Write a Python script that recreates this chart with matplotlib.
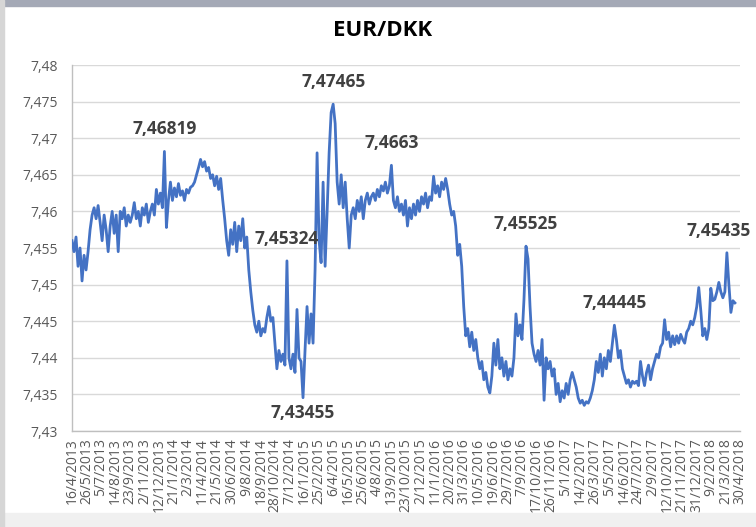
import numpy as np
import pandas as pd
import matplotlib.pyplot as plt
from matplotlib.patches import Rectangle

plt.rcParams['font.family'] = ['Open Sans', 'DejaVu Sans']

# EUR/DKK, roughly every 5.5 days from 16/4/2013 to 16/4/2018
rate = [
    7.4560, 7.4545, 7.4565, 7.4525, 7.4550, 7.4505, 7.4540, 7.4520, 7.4545, 7.4575,
    7.4595, 7.4605, 7.4590, 7.4608, 7.4585, 7.4560, 7.4595, 7.4575, 7.4545, 7.4580,
    7.4600, 7.4570, 7.4595, 7.4545, 7.4600, 7.4590, 7.4605, 7.4580, 7.4595, 7.4585,
    7.4595, 7.4612, 7.4590, 7.4600, 7.4580, 7.4605, 7.4595, 7.4610, 7.4585, 7.4600,
    7.4610, 7.4595, 7.4630, 7.4610, 7.4625, 7.4605, 7.46819, 7.4578, 7.4615, 7.4640,
    7.4615, 7.4632, 7.4620, 7.4638, 7.4622, 7.4628, 7.4615, 7.4630, 7.4625, 7.4633,
    7.4635, 7.4640, 7.4650, 7.4660, 7.4671, 7.4661, 7.4668, 7.4655, 7.4660, 7.4645,
    7.4650, 7.4635, 7.4648, 7.4630, 7.4645, 7.4616, 7.4590, 7.4560, 7.4540, 7.4575,
    7.4555, 7.4585, 7.4545, 7.4580, 7.4560, 7.4590, 7.4550, 7.4565, 7.4520, 7.4490,
    7.4465, 7.4445, 7.4435, 7.4450, 7.4430, 7.4440, 7.4435, 7.4455, 7.4470, 7.4450,
    7.4455, 7.4420, 7.4385, 7.4410, 7.4395, 7.4405, 7.4390, 7.45324, 7.4400, 7.4385,
    7.4405, 7.4380, 7.4466, 7.4400, 7.4395, 7.43455, 7.4410, 7.4470, 7.4420, 7.4460,
    7.4420, 7.4520, 7.4680, 7.4560, 7.4530, 7.4640, 7.4525, 7.4600, 7.4680, 7.4735,
    7.47465, 7.4720, 7.4640, 7.4610, 7.4650, 7.4605, 7.4640, 7.4590, 7.4550, 7.4595,
    7.4605, 7.4590, 7.4615, 7.4600, 7.4620, 7.4590, 7.4615, 7.4625, 7.4610, 7.4620,
    7.4625, 7.4615, 7.4630, 7.4620, 7.4635, 7.4628, 7.4640, 7.4625, 7.4635, 7.4663,
    7.4615, 7.4605, 7.4620, 7.4600, 7.4610, 7.4595, 7.4615, 7.4580, 7.4605, 7.4590,
    7.4610, 7.4595, 7.4615, 7.4600, 7.4620, 7.4610, 7.4625, 7.4605, 7.4620, 7.4615,
    7.4648, 7.4625, 7.4635, 7.4620, 7.4640, 7.4630, 7.4645, 7.4630, 7.4610, 7.4595,
    7.4600, 7.4580, 7.4540, 7.4555, 7.4525, 7.4470, 7.4430, 7.4440, 7.4415, 7.4435,
    7.4410, 7.4425, 7.4400, 7.4385, 7.4395, 7.4370, 7.4380, 7.4360, 7.4352, 7.4375,
    7.4420, 7.4390, 7.4425, 7.4385, 7.4400, 7.4375, 7.4395, 7.4370, 7.4385, 7.4375,
    7.4400, 7.4460, 7.4430, 7.4445, 7.4425, 7.4480, 7.45525, 7.4535, 7.4470, 7.4420,
    7.4405, 7.4395, 7.4410, 7.4390, 7.4425, 7.4342, 7.4400, 7.4385, 7.4395, 7.4375,
    7.4385, 7.4350, 7.4365, 7.4340, 7.4355, 7.4345, 7.4365, 7.4350, 7.4370, 7.4380,
    7.4370, 7.4360, 7.4345, 7.4338, 7.4342, 7.4335, 7.4340, 7.4338, 7.4345, 7.4355,
    7.4370, 7.4395, 7.4380, 7.4405, 7.4375, 7.4400, 7.4385, 7.4410, 7.4395, 7.4420,
    7.44445, 7.4425, 7.4400, 7.4410, 7.4385, 7.4375, 7.4365, 7.4370, 7.4360, 7.4368,
    7.4365, 7.4368, 7.4362, 7.4395, 7.4375, 7.4362, 7.4380, 7.4390, 7.4370, 7.4385,
    7.4395, 7.4405, 7.4400, 7.4415, 7.4420, 7.4452, 7.4425, 7.4435, 7.4415, 7.4430,
    7.4418, 7.4430, 7.4420, 7.4432, 7.4425, 7.4420, 7.4435, 7.4440, 7.4450, 7.4445,
    7.4455, 7.4470, 7.4496, 7.4465, 7.4430, 7.4440, 7.4425, 7.4440, 7.4495, 7.4478,
    7.4480, 7.4490, 7.4503, 7.4490, 7.4482, 7.4490, 7.45435, 7.4500, 7.4462, 7.4478,
    7.4475,
]
dates = pd.date_range('2013-04-16', '2018-04-16', periods=len(rate))

# labelled points: text, value, above/below
point_labels = [
    ('7,46819', 7.46819, 'above'),
    ('7,47465', 7.47465, 'above'),
    ('7,4663', 7.4663, 'above'),
    ('7,45324', 7.45324, 'above'),
    ('7,43455', 7.43455, 'below'),
    ('7,45525', 7.45525, 'above'),
    ('7,44445', 7.44445, 'above'),
    ('7,45435', 7.45435, 'above'),
]

x_tick_labels = [
    '16/4/2013', '26/5/2013', '5/7/2013', '14/8/2013', '23/9/2013', '2/11/2013',
    '12/12/2013', '21/1/2014', '2/3/2014', '11/4/2014', '21/5/2014', '30/6/2014',
    '9/8/2014', '18/9/2014', '28/10/2014', '7/12/2014', '16/1/2015', '25/2/2015',
    '6/4/2015', '16/5/2015', '25/6/2015', '4/8/2015', '13/9/2015', '23/10/2015',
    '2/12/2015', '11/1/2016', '20/2/2016', '31/3/2016', '10/5/2016', '19/6/2016',
    '29/7/2016', '7/9/2016', '17/10/2016', '26/11/2016', '5/1/2017', '14/2/2017',
    '26/3/2017', '5/5/2017', '14/6/2017', '24/7/2017', '2/9/2017', '12/10/2017',
    '21/11/2017', '31/12/2017', '9/2/2018', '21/3/2018', '30/4/2018',
]
y_ticks = [7.43, 7.435, 7.44, 7.445, 7.45, 7.455, 7.46, 7.465, 7.47, 7.475, 7.48]
y_tick_labels = ['7,43', '7,435', '7,44', '7,445', '7,45', '7,455', '7,46',
                 '7,465', '7,47', '7,475', '7,48']

fig = plt.figure(figsize=(7.56, 5.27), dpi=100)
fig.patch.set_facecolor('white')
# window frame bits
fig.patches.append(Rectangle((0, 1 - 6 / 527), 1, 6 / 527, transform=fig.transFigure,
                             color='#a4a9b6', zorder=0))
fig.patches.append(Rectangle((0, 0), 1, 14 / 527, transform=fig.transFigure,
                             color='#f0f0f0', zorder=0))
fig.patches.append(Rectangle((0, 0), 4 / 756, 1, transform=fig.transFigure,
                             color='#d6d6d6', zorder=0))

ax = fig.add_axes([72 / 756, 96 / 527, 668 / 756, 366 / 527])
ax.plot(dates, rate, color='#4472C4', lw=2.0, zorder=3)

tick_dates = pd.to_datetime(x_tick_labels, format='%d/%m/%Y')
ax.set_xticks(tick_dates)
ax.set_xticklabels(x_tick_labels, rotation=90, fontsize=10, color='#595959')
ax.set_xlim(tick_dates[0], tick_dates[-1])

ax.set_yticks(y_ticks)
ax.set_yticklabels(y_tick_labels, fontsize=10, color='#595959')
ax.set_ylim(7.43, 7.48)

ax.grid(axis='y', color='#d9d9d9', lw=1)
ax.set_axisbelow(True)
ax.tick_params(length=0)
ax.tick_params(axis='y', pad=10)
ax.tick_params(axis='x', pad=5)
for s in ['top', 'right']:
    ax.spines[s].set_visible(False)
for s in ['left', 'bottom']:
    ax.spines[s].set_color('#bfbfbf')
    ax.spines[s].set_linewidth(1)

values = np.array(rate)
for text, v, pos in point_labels:
    i = int(np.argmin(np.abs(values - v)))
    dy = 16 if pos == 'above' else -11
    # last label sits at the right edge, nudge it in so it stays whole
    dx = -6 if i == len(rate) - 5 else 0
    ax.annotate(text, (dates[i], rate[i]), xytext=(dx, dy), textcoords='offset points',
                ha='center', va='center', fontsize=12.5, fontweight='bold',
                color='#404040', annotation_clip=False, zorder=4)

fig.text(383 / 756, 1 - 31 / 527, 'EUR/DKK', ha='center', va='center',
         fontsize=16, fontweight='bold', color='#000000')

fig.savefig('out.png', dpi=100)
